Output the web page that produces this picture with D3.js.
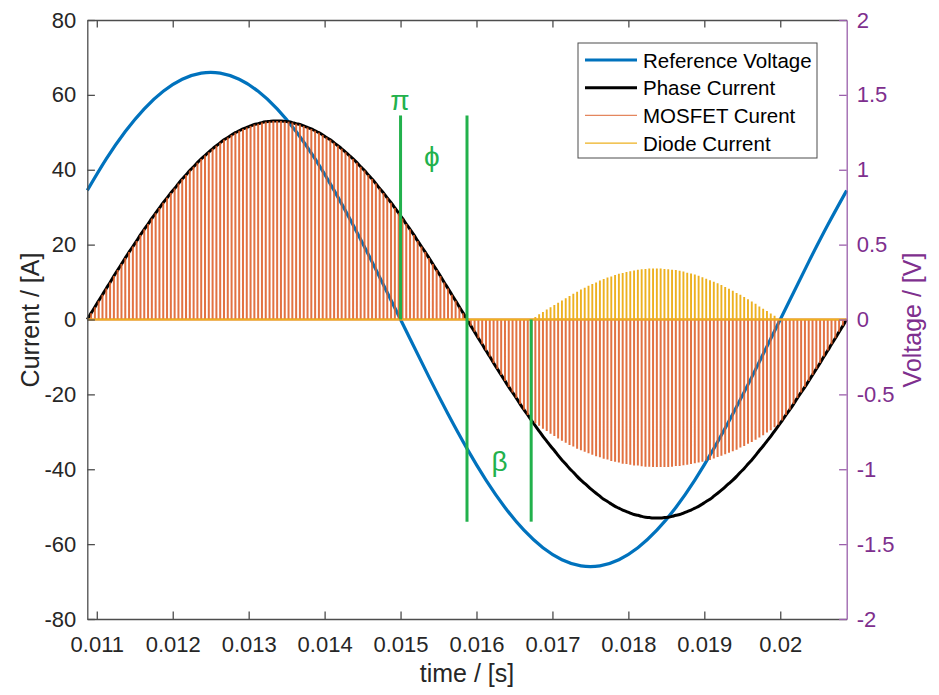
<!DOCTYPE html>
<html>
<head>
<meta charset="utf-8">
<script src="https://cdn.jsdelivr.net/npm/d3@7"></script>
<style>
body { margin: 0; background: #fff; }
text { font-family: "Liberation Sans", Arial, sans-serif; }
</style>
</head>
<body>
<script>
// sampling grid: one period, one sample per switching pulse
var tStart = 0.010875;
var tStep = 0.00005;

// phase current [A], one value per pulse (201 samples)
var phaseCurrent = [
  0, 1.7, 3.3, 5.0, 6.6, 8.3, 9.9, 11.6, 13.2, 14.8,
  16.4, 18.0, 19.5, 21.0, 22.6, 24.1, 25.5, 27.0, 28.4, 29.8,
  31.2, 32.5, 33.8, 35.0, 36.3, 37.5, 38.6, 39.8, 40.8, 41.9,
  42.9, 43.8, 44.7, 45.6, 46.4, 47.2, 48.0, 48.6, 49.3, 49.9,
  50.4, 50.9, 51.3, 51.7, 52.1, 52.3, 52.6, 52.8, 52.9, 53.0,
  53.0, 53.0, 52.9, 52.8, 52.6, 52.3, 52.1, 51.7, 51.3, 50.9,
  50.4, 49.9, 49.3, 48.6, 48.0, 47.2, 46.4, 45.6, 44.7, 43.8,
  42.9, 41.9, 40.8, 39.8, 38.6, 37.5, 36.3, 35.0, 33.8, 32.5,
  31.2, 29.8, 28.4, 27.0, 25.5, 24.1, 22.6, 21.0, 19.5, 18.0,
  16.4, 14.8, 13.2, 11.6, 9.9, 8.3, 6.6, 5.0, 3.3, 1.7,
  0, -1.7, -3.3, -5.0, -6.6, -8.3, -9.9, -11.6, -13.2, -14.8,
  -16.4, -18.0, -19.5, -21.0, -22.6, -24.1, -25.5, -27.0, -28.4, -29.8,
  -31.2, -32.5, -33.8, -35.0, -36.3, -37.5, -38.6, -39.8, -40.8, -41.9,
  -42.9, -43.8, -44.7, -45.6, -46.4, -47.2, -48.0, -48.6, -49.3, -49.9,
  -50.4, -50.9, -51.3, -51.7, -52.1, -52.3, -52.6, -52.8, -52.9, -53.0,
  -53.0, -53.0, -52.9, -52.8, -52.6, -52.3, -52.1, -51.7, -51.3, -50.9,
  -50.4, -49.9, -49.3, -48.6, -48.0, -47.2, -46.4, -45.6, -44.7, -43.8,
  -42.9, -41.9, -40.8, -39.8, -38.6, -37.5, -36.3, -35.0, -33.8, -32.5,
  -31.2, -29.8, -28.4, -27.0, -25.5, -24.1, -22.6, -21.0, -19.5, -18.0,
  -16.4, -14.8, -13.2, -11.6, -9.9, -8.3, -6.6, -5.0, -3.3, -1.7,
  0
];

// diode conducts from pulse 117 to 182
var diodeStart = 117;
var diodeCurrent = [
  0.1, 0.7, 1.4,
  2.0, 2.7, 3.3, 3.9, 4.5, 5.1, 5.7, 6.3, 6.9, 7.4,
  8.0, 8.5, 9.0, 9.5, 9.9, 10.4, 10.8, 11.2, 11.5, 11.9,
  12.2, 12.4, 12.7, 12.9, 13.1, 13.3, 13.4, 13.5, 13.6, 13.6,
  13.6, 13.6, 13.5, 13.4, 13.3, 13.2, 13.0, 12.8, 12.5, 12.3,
  12.0, 11.7, 11.3, 10.9, 10.5, 10.1, 9.7, 9.2, 8.7, 8.2,
  7.7, 7.1, 6.6, 6.0, 5.4, 4.8, 4.2, 3.5, 2.9, 2.3,
  1.6, 1.0, 0.3
];
// MOSFET current over the same pulses (elsewhere it carries the phase current)
var mosfetDip = [
  -26.9, -27.7, -28.4,
  -29.2, -29.8, -30.5, -31.1, -31.8, -32.4, -32.9, -33.5, -33.9, -34.5,
  -34.9, -35.3, -35.7, -36.1, -36.5, -36.8, -37.2, -37.4, -37.8, -38.0,
  -38.2, -38.5, -38.6, -38.8, -39.0, -39.0, -39.2, -39.3, -39.3, -39.4,
  -39.4, -39.4, -39.4, -39.4, -39.3, -39.1, -39.1, -38.9, -38.8, -38.6,
  -38.4, -38.2, -38.0, -37.7, -37.5, -37.1, -36.7, -36.4, -36.0, -35.6,
  -35.2, -34.8, -34.2, -33.8, -33.2, -32.7, -32.1, -31.5, -30.9, -30.2,
  -29.6, -28.8, -28.1
];

// reference voltage [V], every 5th pulse
var voltageStep = 0.00025;
var refVoltage = [
  0.862, 1.072, 1.255, 1.407, 1.524, 1.604, 1.645, 1.645, 1.604, 1.524,
  1.407, 1.255, 1.072, 0.862, 0.631, 0.385, 0.129, -0.129, -0.385, -0.631,
  -0.862, -1.072, -1.255, -1.407, -1.524, -1.604, -1.645, -1.645, -1.604, -1.524,
  -1.407, -1.255, -1.072, -0.862, -0.631, -0.385, -0.129, 0.129, 0.385, 0.631,
  0.862
];

// angle markers
var markerTimes = [0.015, 0.015875, 0.01672];
var markerTop = [54.5, 54.5, 0];
var markerBottom = [0, -54, -54];
var markerLabels = ["\u03C0", "\u03D5", "\u03B2"];
var labelTimes = [0.01499, 0.015412, 0.016303];
var labelValues = [58.4, 43.5, -37.9];

var xTicks = [0.011, 0.012, 0.013, 0.014, 0.015, 0.016, 0.017, 0.018, 0.019, 0.020];
var xTickLabels = ["0.011", "0.012", "0.013", "0.014", "0.015", "0.016", "0.017", "0.018", "0.019", "0.02"];
var leftTicks = [-80, -60, -40, -20, 0, 20, 40, 60, 80];
var leftTickLabels = ["-80", "-60", "-40", "-20", "0", "20", "40", "60", "80"];
var rightTicks = [-2, -1.5, -1, -0.5, 0, 0.5, 1, 1.5, 2];
var rightTickLabels = ["-2", "-1.5", "-1", "-0.5", "0", "0.5", "1", "1.5", "2"];

var legendNames = ["Reference Voltage", "Phase Current", "MOSFET Curent", "Diode Current"];
var seriesColors = ["#0072BD", "#000000", "#D95319", "#EDB120"];

var W = 939, H = 695;
var mLeft = 87.3, mRight = 846.7, mTop = 20, mBottom = 619;

var svg = d3.select("body").append("svg")
  .attr("width", W)
  .attr("height", H);

var x = d3.scaleLinear().domain([tStart, tStart + 200 * tStep]).range([mLeft, mRight]);
var yL = d3.scaleLinear().domain([-80, 80]).range([mBottom, mTop]);
var yR = d3.scaleLinear().domain([-2, 2]).range([mBottom, mTop]);

// build series
var mosfetCurrent = phaseCurrent.map(function(v, k) {
  var j = k - diodeStart;
  return (j >= 0 && j < mosfetDip.length) ? mosfetDip[j] : v;
});
var diodeFull = phaseCurrent.map(function(v, k) {
  var j = k - diodeStart;
  return (j >= 0 && j < diodeCurrent.length) ? diodeCurrent[j] : 0;
});

// pulse train: 0 -> value -> 0 at every sample
function pulses(vals) {
  var pts = [];
  vals.forEach(function(v, k) {
    var t = tStart + k * tStep;
    pts.push([t, 0], [t, v], [t, 0]);
  });
  return pts;
}

var plot = svg.append("g");

// reference voltage (right axis)
plot.append("path")
  .datum(refVoltage.map(function(v, i) { return [tStart + i * voltageStep, v]; }))
  .attr("fill", "none")
  .attr("stroke", seriesColors[0])
  .attr("stroke-width", 3.2)
  .attr("d", d3.line().curve(d3.curveNatural)
    .x(function(d) { return x(d[0]); })
    .y(function(d) { return yR(d[1]); }));

// phase current
plot.append("path")
  .datum(phaseCurrent.map(function(v, k) { return [tStart + k * tStep, v]; }))
  .attr("fill", "none")
  .attr("stroke", seriesColors[1])
  .attr("stroke-width", 3)
  .attr("d", d3.line().curve(d3.curveNatural)
    .x(function(d) { return x(d[0]); })
    .y(function(d) { return yL(d[1]); }));

var stepLine = d3.line().x(function(d) { return x(d[0]); }).y(function(d) { return yL(d[1]); });

plot.append("path")
  .datum(pulses(mosfetCurrent))
  .attr("fill", "none")
  .attr("stroke", "#DE5F28")
  .attr("stroke-opacity", 0.88)
  .attr("stroke-linejoin", "bevel")
  .attr("stroke-width", 2)
  .attr("d", stepLine);

plot.append("path")
  .datum(pulses(diodeFull))
  .attr("fill", "none")
  .attr("stroke", seriesColors[3])
  .attr("stroke-linejoin", "bevel")
  .attr("stroke-width", 1.9)
  .attr("d", stepLine);

// markers
markerTimes.forEach(function(t, i) {
  plot.append("line")
    .attr("x1", x(t)).attr("x2", x(t))
    .attr("y1", yL(markerTop[i])).attr("y2", yL(markerBottom[i]))
    .attr("stroke", "#22B14C")
    .attr("stroke-width", 3);
  plot.append("text")
    .attr("x", x(labelTimes[i]))
    .attr("y", yL(labelValues[i]))
    .attr("text-anchor", "middle")
    .attr("dominant-baseline", "central")
    .attr("fill", "#22B14C")
    .style("font-size", "28px")
    .text(markerLabels[i]);
});

// axes
var axisGray = "#4d4d4d";
var purple = "#7E2F8E";

function styleAxis(g, lineColor, textColor, size) {
  g.selectAll("path.domain").attr("stroke", lineColor).attr("stroke-width", 1.3);
  g.selectAll(".tick line").attr("stroke", lineColor).attr("stroke-width", 1.3);
  g.selectAll(".tick text")
    .attr("fill", textColor)
    .style("font-size", size + "px")
    .style("font-family", "'Liberation Sans', Arial, sans-serif");
}

var gx = svg.append("g")
  .attr("transform", "translate(0," + mBottom + ")")
  .call(d3.axisBottom(x).tickValues(xTicks)
    .tickFormat(function(d, i) { return xTickLabels[i]; })
    .tickSizeInner(-7.6).tickSizeOuter(0).tickPadding(17));
styleAxis(gx, axisGray, "#262626", 22);

var gt = svg.append("g")
  .attr("transform", "translate(0," + mTop + ")")
  .call(d3.axisTop(x).tickValues(xTicks).tickFormat("")
    .tickSizeInner(-7.6).tickSizeOuter(0));
styleAxis(gt, axisGray, "#262626", 22);

var gl = svg.append("g")
  .attr("transform", "translate(" + mLeft + ",0)")
  .call(d3.axisLeft(yL).tickValues(leftTicks)
    .tickFormat(function(d, i) { return leftTickLabels[i]; })
    .tickSizeInner(-7.6).tickSizeOuter(0).tickPadding(11));
styleAxis(gl, axisGray, "#262626", 22);

var gr = svg.append("g")
  .attr("transform", "translate(" + mRight + ",0)")
  .call(d3.axisRight(yR).tickValues(rightTicks)
    .tickFormat(function(d, i) { return rightTickLabels[i]; })
    .tickSizeInner(-7.6).tickSizeOuter(0).tickPadding(10));
styleAxis(gr, "#9a5fab", purple, 22);

// axis labels
svg.append("text")
  .attr("x", (mLeft + mRight) / 2).attr("y", 673)
  .attr("text-anchor", "middle").attr("dominant-baseline", "central")
  .attr("fill", "#262626").style("font-size", "25px")
  .text("time / [s]");

svg.append("text")
  .attr("transform", "translate(30,320) rotate(-90)")
  .attr("text-anchor", "middle").attr("dominant-baseline", "central")
  .attr("fill", "#262626").style("font-size", "25px")
  .text("Current / [A]");

svg.append("text")
  .attr("transform", "translate(912,320) rotate(-90)")
  .attr("text-anchor", "middle").attr("dominant-baseline", "central")
  .attr("fill", purple).style("font-size", "25px")
  .text("Voltage / [V]");

// legend
var lg = svg.append("g");
lg.append("rect")
  .attr("x", 578).attr("y", 43).attr("width", 239).attr("height", 115)
  .attr("fill", "#fff").attr("stroke", "#4d4d4d").attr("stroke-width", 1);
var legendWidths = [3.2, 3, 1.3, 1.3];
var legendOpacity = [1, 1, 0.7, 1];
legendNames.forEach(function(name, i) {
  var yy = 60 + i * 27.7;
  lg.append("line")
    .attr("x1", 585).attr("x2", 637).attr("y1", yy).attr("y2", yy)
    .attr("stroke", seriesColors[i]).attr("stroke-opacity", legendOpacity[i])
    .attr("stroke-width", legendWidths[i]);
  lg.append("text")
    .attr("x", 643).attr("y", yy)
    .attr("dominant-baseline", "central")
    .attr("fill", "#000").style("font-size", "20.5px")
    .text(name);
});
</script>
</body>
</html>
